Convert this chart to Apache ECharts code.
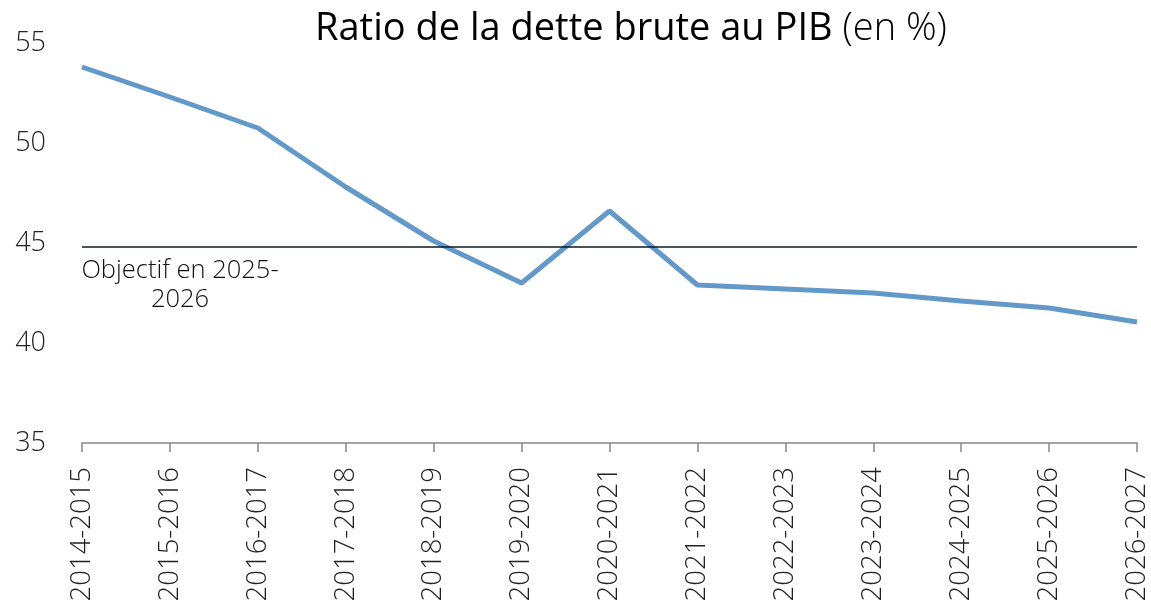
<!DOCTYPE html>
<html>
<head>
<meta charset="utf-8">
<script src="https://cdn.jsdelivr.net/npm/echarts@6/dist/echarts.min.js"></script>
<style>
html,body{margin:0;padding:0;background:#fff;}
#chart{width:1151px;height:605px;}
</style>
</head>
<body>
<div id="chart"></div>
<script>
const categories = ['2014-2015','2015-2016','2016-2017','2017-2018','2018-2019','2019-2020','2020-2021','2021-2022','2022-2023','2023-2024','2024-2025','2025-2026','2026-2027'];
const ratioValues = [53.8, 52.3, 50.75, 47.8, 45.1, 43.0, 46.6, 42.9, 42.7, 42.5, 42.1, 41.75, 41.05];
const targetValue = 44.8;
const targetLabel = 'Objectif en 2025-\n2026';
const yTicks = [35, 40, 45, 50, 55];

const chart = echarts.init(document.getElementById('chart'));
const FONT = 'Open Sans';
chart.setOption({
  animation: false,
  title: {
    text: '{b|Ratio de la dette brute au PIB}{l| (en %)}',
    left: 626, top: 5, textAlign: 'center',
    textStyle: {
      rich: {
        b: {fontFamily: FONT, fontSize: 38, fontWeight: 500, color: '#000'},
        l: {fontFamily: FONT, fontSize: 38, fontWeight: 300, color: '#000'}
      }
    }
  },
  grid: {left: 82, right: 10, top: 43, bottom: 162, containLabel: false},
  xAxis: {
    type: 'category', data: categories, boundaryGap: false,
    axisLine: {lineStyle: {color: '#888', width: 1.5}},
    axisTick: {show: true, length: 9, lineStyle: {color: '#888', width: 1.5}},
    axisLabel: {rotate: 90, margin: 24, fontFamily: FONT, fontWeight: 300, fontSize: 27.5, color: '#222', interval: 0}
  },
  yAxis: {
    type: 'value', min: yTicks[0], max: yTicks[yTicks.length-1], interval: 5,
    axisLine: {show: false}, axisTick: {show: false}, splitLine: {show: false},
    axisLabel: {margin: 36, fontFamily: FONT, fontWeight: 300, fontSize: 27, color: '#222'}
  },
  series: [{
    type: 'line', data: ratioValues, symbol: 'none',
    lineStyle: {color: '#6399C9', width: 5},
    markLine: {
      silent: true, symbol: 'none',
      data: [{yAxis: targetValue}],
      lineStyle: {color: '#0b1a24', width: 1.6, type: 'solid'},
      label: {
        show: true, position: 'insideStartBottom', formatter: targetLabel,
        fontFamily: FONT, fontWeight: 300, fontSize: 25.5, color: '#111',
        align: 'center', lineHeight: 29, distance: [98, 9]
      }
    }
  }]
});
</script>
</body>
</html>
